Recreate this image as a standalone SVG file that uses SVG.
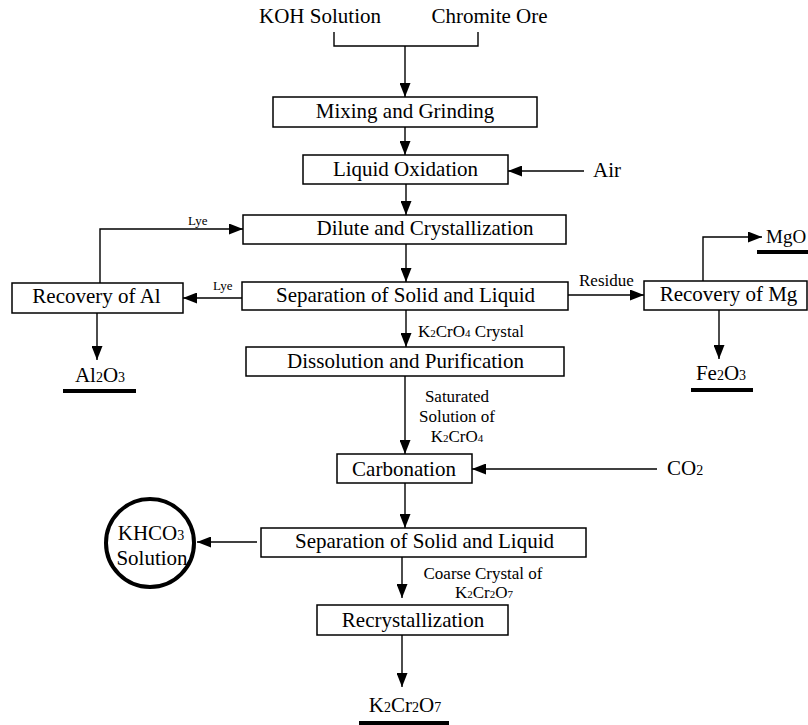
<svg xmlns="http://www.w3.org/2000/svg" width="808" height="725" viewBox="0 0 808 725">
<style>
text{font-family:"Liberation Serif","Times New Roman",serif;fill:#000}
.m{font-size:21px}
.s{font-size:17px}
.xs{font-size:13px}
.c{text-anchor:middle}
.sb{font-size:14px}
.ss{font-size:11px}
rect.b{fill:#fff;stroke:#000;stroke-width:1.5}
#connectors path{fill:none;stroke:#000;stroke-width:1.4}
.ul{stroke:#000;stroke-width:4}
</style>
<defs>
<marker id="ah" viewBox="0 0 14 11" refX="14" refY="5.5" markerWidth="14" markerHeight="11" orient="auto" markerUnits="userSpaceOnUse"><path d="M0,0 L14,5.5 L0,11 z" fill="#000"/></marker>
</defs>
<rect width="808" height="725" fill="#fff"/>
<g id="connectors">
<path d="M334,32 V46 H478 V32"/>
<path d="M405,46 V97" marker-end="url(#ah)"/>
<path d="M405,127 V155" marker-end="url(#ah)"/>
<path d="M584,171 H508" marker-end="url(#ah)"/>
<path d="M406,184 V215" marker-end="url(#ah)"/>
<path d="M406,244 V282" marker-end="url(#ah)"/>
<path d="M100,283 V229 H243" marker-end="url(#ah)"/>
<path d="M242,298 H183" marker-end="url(#ah)"/>
<path d="M568,295 H644" marker-end="url(#ah)"/>
<path d="M703,281 V237 H762" marker-end="url(#ah)"/>
<path d="M719,310 V359" marker-end="url(#ah)"/>
<path d="M97,313 V360" marker-end="url(#ah)"/>
<path d="M406,310 V347" marker-end="url(#ah)"/>
<path d="M405,376 V454" marker-end="url(#ah)"/>
<path d="M657,469 H472" marker-end="url(#ah)"/>
<path d="M405,483 V528" marker-end="url(#ah)"/>
<path d="M257,542 H197" marker-end="url(#ah)"/>
<path d="M402,557 V598" marker-end="url(#ah)"/>
<path d="M402,635 V687" marker-end="url(#ah)"/>
<text class="xs" x="188" y="225">Lye</text>
<text class="xs" x="213" y="290">Lye</text>
<text class="s" x="579" y="286">Residue</text>
<text class="s" x="418" y="337">K<tspan class="ss">2</tspan>CrO<tspan class="ss">4</tspan> Crystal</text>
<text class="s c" x="457" y="402">Saturated</text>
<text class="s c" x="457" y="422">Solution of</text>
<text class="s c" x="457" y="442">K<tspan class="ss">2</tspan>CrO<tspan class="ss">4</tspan></text>
<text class="s c" x="483" y="579">Coarse Crystal of</text>
<text class="s c" x="484" y="598">K<tspan class="ss">2</tspan>Cr<tspan class="ss">2</tspan>O<tspan class="ss">7</tspan></text>
</g>
<g id="koh"><text class="m c" x="320" y="23">KOH Solution</text></g>
<g id="ore"><text class="m c" x="489.5" y="23">Chromite Ore</text></g>
<g id="mixing"><rect class="b" x="273" y="97" width="264" height="30"/><text class="m c" x="405" y="118">Mixing and Grinding</text></g>
<g id="oxidation"><rect class="b" x="303" y="155" width="205" height="29"/><text class="m c" x="405.5" y="176">Liquid Oxidation</text></g>
<g id="air"><text class="m" x="593" y="177">Air</text></g>
<g id="dilute"><rect class="b" x="243" y="215" width="323" height="29"/><text class="m c" x="425" y="235">Dilute and Crystallization</text></g>
<g id="sep1"><rect class="b" x="242" y="282" width="326" height="28"/><text class="m c" x="405.5" y="302">Separation of Solid and Liquid</text></g>
<g id="recal"><rect class="b" x="12" y="283" width="171" height="30"/><text class="m c" x="96.5" y="303">Recovery of Al</text></g>
<g id="al2o3"><text class="m c" x="100" y="382">Al<tspan class="sb">2</tspan>O<tspan class="sb">3</tspan></text><line class="ul" x1="63" y1="391" x2="136" y2="391"/></g>
<g id="recmg"><rect class="b" x="644" y="281" width="163" height="29"/><text class="m c" x="728.5" y="301">Recovery of Mg</text></g>
<g id="mgo"><text x="766" y="243" font-size="19">MgO</text><line class="ul" x1="757" y1="252" x2="808" y2="252"/></g>
<g id="fe2o3"><text class="m c" x="721" y="380">Fe<tspan class="sb">2</tspan>O<tspan class="sb">3</tspan></text><line class="ul" x1="691" y1="390" x2="753" y2="390"/></g>
<g id="dissolution"><rect class="b" x="246" y="347" width="318" height="29"/><text class="m c" x="405.5" y="368">Dissolution and Purification</text></g>
<g id="carbonation"><rect class="b" x="337" y="454" width="135" height="29"/><text class="m c" x="404" y="476">Carbonation</text></g>
<g id="co2"><text class="m" x="667" y="475">CO<tspan class="sb">2</tspan></text></g>
<g id="sep2"><rect class="b" x="261" y="528" width="325" height="29"/><text class="m c" x="424.5" y="548">Separation of Solid and Liquid</text></g>
<g id="khco3"><circle cx="150" cy="543" r="44" fill="#fff" stroke="#000" stroke-width="4"/><text class="m c" x="151" y="540">KHCO<tspan class="sb">3</tspan></text><text class="m c" x="152" y="565">Solution</text></g>
<g id="recryst"><rect class="b" x="317" y="605" width="191" height="30"/><text class="m c" x="413" y="627">Recrystallization</text></g>
<g id="k2cr2o7"><text class="m c" x="405" y="712">K<tspan class="sb">2</tspan>Cr<tspan class="sb">2</tspan>O<tspan class="sb">7</tspan></text><line class="ul" x1="359" y1="723" x2="449" y2="723"/></g>
</svg>
